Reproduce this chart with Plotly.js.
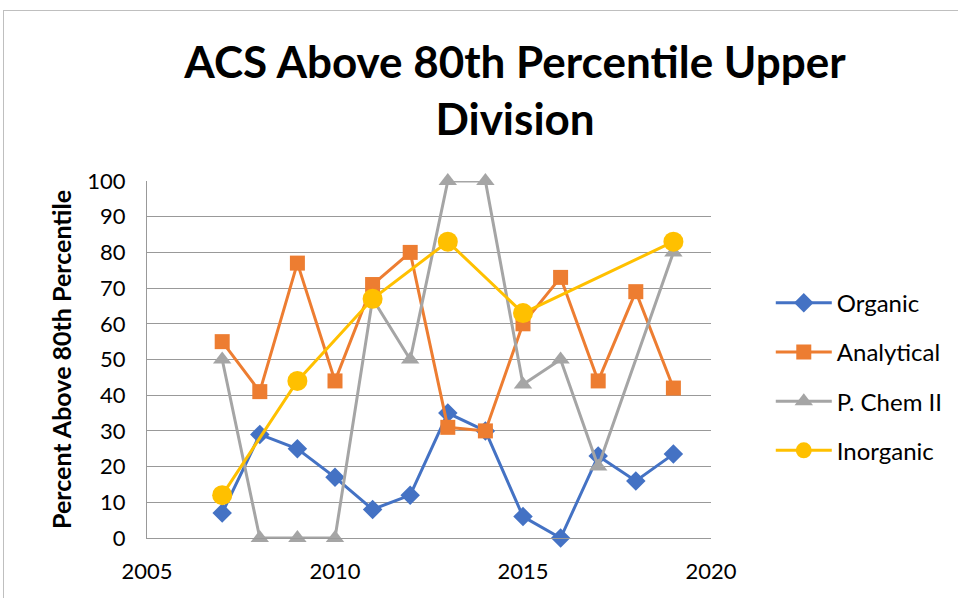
<!DOCTYPE html>
<html>
<head>
<meta charset="utf-8">
<script src="https://cdn.plot.ly/plotly-3.0.1.min.js"></script>
<style>
html,body{margin:0;padding:0;background:#fff;}
#wrap{position:relative;width:958px;height:598px;overflow:hidden;}
#chart{width:958px;height:598px;}
#frame{position:absolute;left:3px;top:10px;width:980px;height:620px;border-left:1px solid #bfbfbf;border-top:1px solid #bfbfbf;pointer-events:none;}
</style>
</head>
<body>
<div id="wrap"><div id="chart"></div><div id="frame"></div></div>
<script>
const years = [2007, 2008, 2009, 2010, 2011, 2012, 2013, 2014, 2015, 2016, 2017, 2018, 2019];
const organic = [7, 29, 25, 17, 8, 12, 35, 30, 6, 0, 23, 16, 23.5];
const analytical = [55, 41, 77, 44, 71, 80, 31, 30, 60, 73, 44, 69, 42];
const pchem2 = [50, 0, 0, 0, 67, 50, 100, 100, 43, 50, 20, null, 80];
const inorgYears = [2007, 2009, 2011, 2013, 2015, 2019];
const inorganic = [12, 44, 67, 83, 63, 83];
const seriesNames = ["Organic", "Analytical", "P. Chem II", "Inorganic"];

const font = "Lato, 'Open Sans', sans-serif";
const traces = [
  {x: years, y: organic, name: seriesNames[0], legendgroup: "a", mode: "lines+markers", cliponaxis: false,
   line: {color: "#4472C4", width: 3}, marker: {symbol: "diamond", size: 15, color: "#4472C4"}},
  {x: years, y: analytical, name: seriesNames[1], legendgroup: "b", mode: "lines+markers", cliponaxis: false,
   line: {color: "#ED7D31", width: 3}, marker: {symbol: "square", size: 15, color: "#ED7D31"}},
  {x: years, y: pchem2, name: seriesNames[2], legendgroup: "c", mode: "lines+markers", connectgaps: true, cliponaxis: false,
   line: {color: "#A5A5A5", width: 3}, marker: {symbol: "triangle-up", size: 16, color: "#A5A5A5"}},
  {x: inorgYears, y: inorganic, name: seriesNames[3], legendgroup: "d", mode: "lines+markers", cliponaxis: false,
   line: {color: "#FFC000", width: 3}, marker: {symbol: "circle", size: 20, color: "#FFC000"}}
];

const layout = {
  width: 958, height: 598,
  margin: {l: 147, r: 247, t: 181, b: 60, autoexpand: false},
  paper_bgcolor: "#fff", plot_bgcolor: "#fff",
  font: {family: font, size: 22, color: "#000"},
  title: {text: "<b>ACS Above 80th Percentile Upper<br>Division</b>", x: 0.5376, xref: "container", xanchor: "center",
          y: 0.870, yref: "container", yanchor: "middle",
          font: {family: font, size: 44, color: "#000"}},
  xaxis: {range: [2005, 2020], dtick: 5, tick0: 2005, showgrid: false, zeroline: false,
          showline: true, linecolor: "#999", linewidth: 1, ticks: "", ticklen: 0,
          ticklabelstandoff: 14, tickfont: {size: 22}, fixedrange: true},
  yaxis: {range: [0, 100], dtick: 10, showgrid: true, gridcolor: "#999", gridwidth: 1,
          zeroline: false, showline: true, linecolor: "#999", ticks: "", tickfont: {size: 22},
          ticklabelstandoff: 16,
          title: {text: "<b>Percent Above 80th Percentile</b>", font: {size: 25}, standoff: 8}},
  legend: {x: 1.106, y: 0.452, xanchor: "left", yanchor: "middle", font: {size: 24},
           traceorder: "grouped", tracegroupgap: 15, itemwidth: 56},
  showlegend: true
};
Plotly.newPlot("chart", traces, layout, {displayModeBar: false, staticPlot: true});
</script>
</body>
</html>
